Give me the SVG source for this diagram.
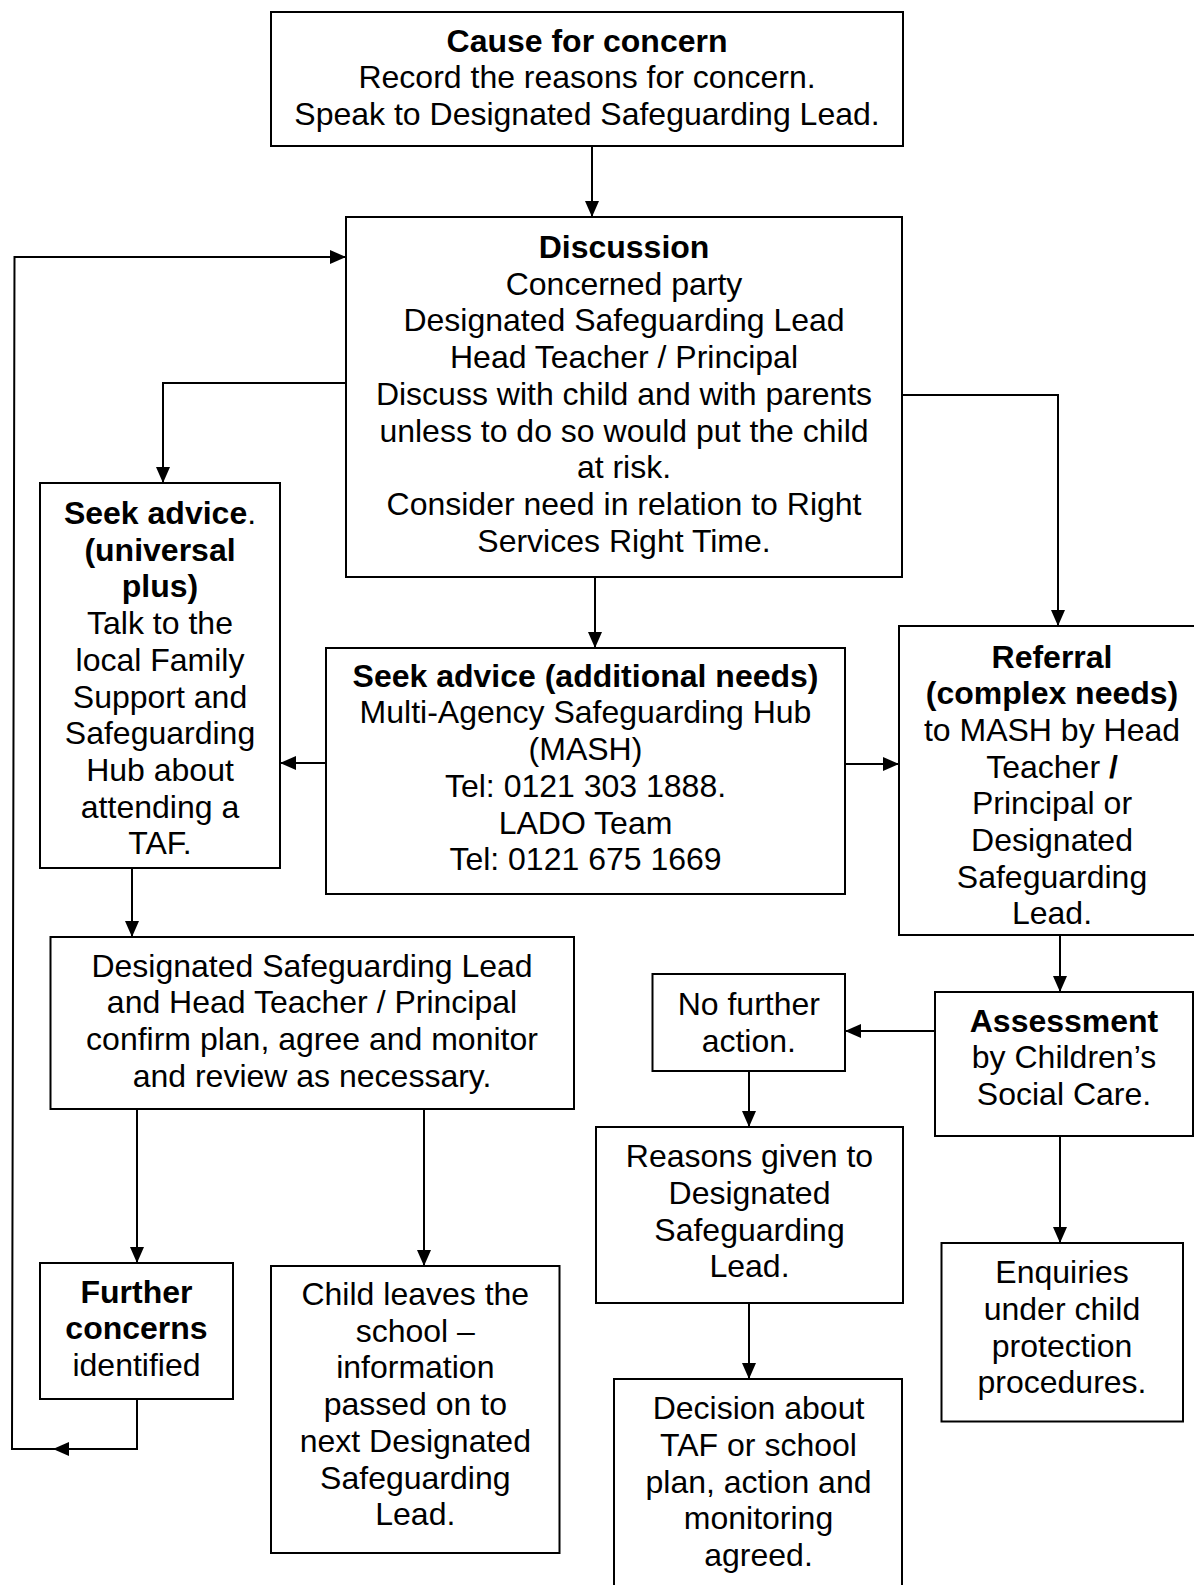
<svg xmlns="http://www.w3.org/2000/svg" width="1194" height="1585" viewBox="0 0 1194 1585">
<style>
.box{fill:#fff;stroke:#000;stroke-width:2}
.t{font-family:"Liberation Sans",Arial,sans-serif;font-size:32px;text-anchor:middle;fill:#000}
.b{font-weight:bold}
.c{fill:none;stroke:#000;stroke-width:2}
</style>
<defs>
<marker id="ah" markerWidth="16" markerHeight="14" refX="16" refY="7" orient="auto" markerUnits="userSpaceOnUse">
<path d="M0,0 L16,7 L0,14 z" fill="#000"/>
</marker>
</defs>
<rect width="1194" height="1585" fill="#fff"/>

<g id="connectors">
<path class="c" d="M592,146 V217" marker-end="url(#ah)"/>
<path class="c" d="M346,383 H163 V483" marker-end="url(#ah)"/>
<path class="c" d="M595,577 V648" marker-end="url(#ah)"/>
<path class="c" d="M902,395 H1058 V626" marker-end="url(#ah)"/>
<path class="c" d="M326,763 H280" marker-end="url(#ah)"/>
<path class="c" d="M845,764 H899" marker-end="url(#ah)"/>
<path class="c" d="M132,868 V937" marker-end="url(#ah)"/>
<path class="c" d="M1060,935 V992" marker-end="url(#ah)"/>
<path class="c" d="M935,1031 H845" marker-end="url(#ah)"/>
<path class="c" d="M749,1071 V1127" marker-end="url(#ah)"/>
<path class="c" d="M749,1303 V1379" marker-end="url(#ah)"/>
<path class="c" d="M1060,1136 V1243" marker-end="url(#ah)"/>
<path class="c" d="M137,1109 V1263" marker-end="url(#ah)"/>
<path class="c" d="M424,1109 V1266" marker-end="url(#ah)"/>
<path class="c" d="M137,1399 V1449 H53" marker-end="url(#ah)"/>
<path class="c" d="M53,1449 H12 L14.5,257 H346" marker-end="url(#ah)"/>
</g>

<g id="cause">
<rect class="box" x="271" y="12" width="632" height="134"/>
<text class="t"><tspan class="b" x="587" y="51.7">Cause for concern</tspan><tspan x="587" y="88.3">Record the reasons for concern.</tspan><tspan x="587" y="125">Speak to Designated Safeguarding Lead.</tspan></text>
</g>

<g id="discussion">
<rect class="box" x="346" y="217" width="556" height="360"/>
<text class="t"><tspan class="b" x="624" y="258">Discussion</tspan><tspan x="624" y="294.7">Concerned party</tspan><tspan x="624" y="331.4">Designated Safeguarding Lead</tspan><tspan x="624" y="368.1">Head Teacher / Principal</tspan><tspan x="624" y="404.8">Discuss with child and with parents</tspan><tspan x="624" y="441.5">unless to do so would put the child</tspan><tspan x="624" y="478.2">at risk.</tspan><tspan x="624" y="514.9">Consider need in relation to Right</tspan><tspan x="624" y="551.6">Services Right Time.</tspan></text>
</g>

<g id="universal">
<rect class="box" x="40" y="483" width="240" height="385"/>
<text class="t" x="160" y="524"><tspan class="b">Seek advice</tspan>.</text>
<text class="t"><tspan class="b" x="160" y="560.7">(universal</tspan><tspan class="b" x="160" y="597.4">plus)</tspan><tspan x="160" y="634.1">Talk to the</tspan><tspan x="160" y="670.8">local Family</tspan><tspan x="160" y="707.5">Support and</tspan><tspan x="160" y="744.2">Safeguarding</tspan><tspan x="160" y="780.9">Hub about</tspan><tspan x="160" y="817.6">attending a</tspan><tspan x="160" y="854.3">TAF.</tspan></text>
</g>

<g id="mash">
<rect class="box" x="326" y="648" width="519" height="246"/>
<text class="t"><tspan class="b" x="585.5" y="686.7">Seek advice (additional needs)</tspan><tspan x="585.5" y="723.4">Multi-Agency Safeguarding Hub</tspan><tspan x="585.5" y="760.1">(MASH)</tspan><tspan x="585.5" y="796.8">Tel: 0121 303 1888.</tspan><tspan x="585.5" y="833.5">LADO Team</tspan><tspan x="585.5" y="870.2">Tel: 0121 675 1669</tspan></text>
</g>

<g id="referral">
<rect class="box" x="899" y="626" width="306" height="309"/>
<text class="t"><tspan class="b" x="1052" y="667.5">Referral</tspan><tspan class="b" x="1052" y="704.2">(complex needs)</tspan><tspan x="1052" y="740.9">to MASH by Head</tspan></text>
<text class="t" x="1052" y="777.6">Teacher<tspan class="b"> /</tspan></text>
<text class="t"><tspan x="1052" y="814.3">Principal or</tspan><tspan x="1052" y="851">Designated</tspan><tspan x="1052" y="887.7">Safeguarding</tspan><tspan x="1052" y="924.4">Lead.</tspan></text>
</g>

<g id="dsl-plan">
<rect class="box" x="50.5" y="937" width="523.5" height="172"/>
<text class="t"><tspan x="312" y="976.7">Designated Safeguarding Lead</tspan><tspan x="312" y="1013.4">and Head Teacher / Principal</tspan><tspan x="312" y="1050.1">confirm plan, agree and monitor</tspan><tspan x="312" y="1086.8">and review as necessary.</tspan></text>
</g>

<g id="no-further">
<rect class="box" x="652.5" y="974" width="192.5" height="97"/>
<text class="t"><tspan x="748.8" y="1015">No further</tspan><tspan x="748.8" y="1051.7">action.</tspan></text>
</g>

<g id="assessment">
<rect class="box" x="935" y="992" width="258" height="144"/>
<text class="t"><tspan class="b" x="1064" y="1031.7">Assessment</tspan><tspan x="1064" y="1068.4">by Children’s</tspan><tspan x="1064" y="1105.1">Social Care.</tspan></text>
</g>

<g id="reasons">
<rect class="box" x="596" y="1127" width="307" height="176"/>
<text class="t"><tspan x="749.5" y="1167.3">Reasons given to</tspan><tspan x="749.5" y="1204">Designated</tspan><tspan x="749.5" y="1240.7">Safeguarding</tspan><tspan x="749.5" y="1277.4">Lead.</tspan></text>
</g>

<g id="enquiries">
<rect class="box" x="941.5" y="1243" width="241.5" height="178.5"/>
<text class="t"><tspan x="1062" y="1283.3">Enquiries</tspan><tspan x="1062" y="1320">under child</tspan><tspan x="1062" y="1356.7">protection</tspan><tspan x="1062" y="1393.4">procedures.</tspan></text>
</g>

<g id="further">
<rect class="box" x="40" y="1263" width="193" height="136"/>
<text class="t"><tspan class="b" x="136.5" y="1302.7">Further</tspan><tspan class="b" x="136.5" y="1339.4">concerns</tspan><tspan x="136.5" y="1376.1">identified</tspan></text>
</g>

<g id="child-leaves">
<rect class="box" x="271" y="1266" width="288.5" height="287"/>
<text class="t"><tspan x="415.3" y="1305">Child leaves the</tspan><tspan x="415.3" y="1341.7">school –</tspan><tspan x="415.3" y="1378.4">information</tspan><tspan x="415.3" y="1415.1">passed on to</tspan><tspan x="415.3" y="1451.8">next Designated</tspan><tspan x="415.3" y="1488.5">Safeguarding</tspan><tspan x="415.3" y="1525.2">Lead.</tspan></text>
</g>

<g id="decision">
<rect class="box" x="614" y="1379" width="288" height="220"/>
<text class="t"><tspan x="758.5" y="1419.3">Decision about</tspan><tspan x="758.5" y="1456">TAF or school</tspan><tspan x="758.5" y="1492.7">plan, action and</tspan><tspan x="758.5" y="1529.4">monitoring</tspan><tspan x="758.5" y="1566.1">agreed.</tspan></text>
</g>
</svg>
